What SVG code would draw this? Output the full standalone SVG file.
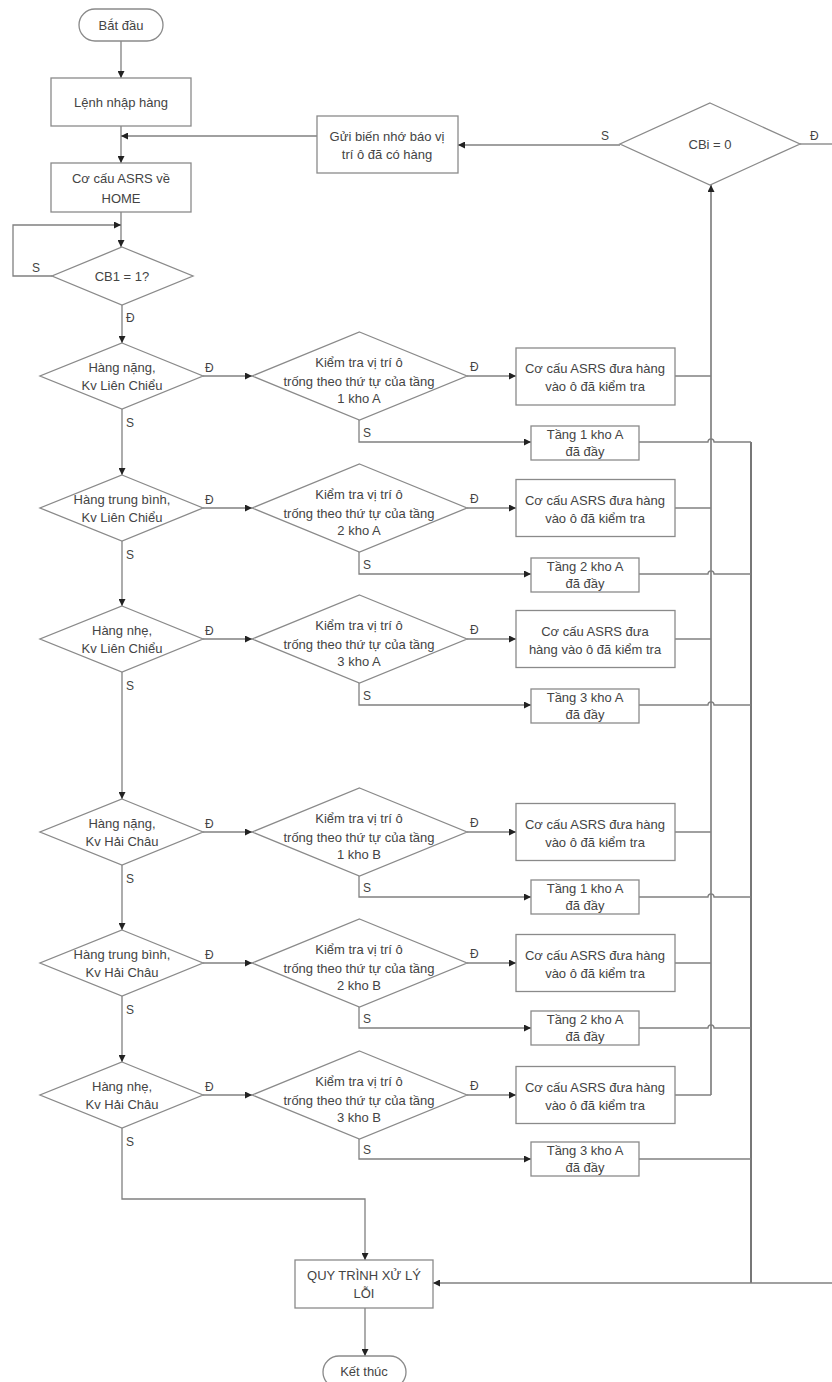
<svg xmlns="http://www.w3.org/2000/svg" width="832" height="1382" viewBox="0 0 832 1382">
<defs>
<marker id="ah" viewBox="0 0 10 10" refX="10" refY="5" markerWidth="7" markerHeight="7" markerUnits="userSpaceOnUse" orient="auto"><path d="M0,0 L10,5 L0,10 z" fill="#222"/></marker>
<style>
.n{fill:#fff;stroke:#8a8a8a;stroke-width:1.3}
.t{font-family:"Liberation Sans",Arial,sans-serif;font-size:13px;fill:#444;text-anchor:middle}
.l{font-family:"Liberation Sans",Arial,sans-serif;font-size:12px;fill:#444}
.c{fill:none;stroke:#808080;stroke-width:1.3}
.v{fill:none;stroke:#666;stroke-width:1.4}
.a{marker-end:url(#ah)}
.d{fill:none;stroke:#555;stroke-width:1.6}
</style>
</defs>
<g id="connectors">
<path class="c a" d="M121,41 V78"/>
<path class="c a" d="M121,126 V163"/>
<path class="c a" d="M317,136 H121"/>
<path class="c a" d="M121,212 V247"/>
<path class="c a" d="M52,276 H13 V225 H121"/>
<path class="c a" d="M122,305 V343"/>
<path class="c a" d="M620,145 H458"/>
<path class="c" d="M800,144 H832"/>
<path class="v a" d="M711,1095 V185"/>
<path class="d" d="M751,442 V1283"/>
<path class="c a" d="M832,1283 H433"/>
<path class="c a" d="M122,1128 V1199 H365 V1260"/>
<path class="c a" d="M365,1308 V1356"/>
<path class="c a" d="M122,409 V475"/>
<path class="c a" d="M122,541 V606"/>
<path class="c a" d="M122,672 V799"/>
<path class="c a" d="M122,865 V930"/>
<path class="c a" d="M122,996 V1062"/>
<path class="c a" d="M203,376 H252"/><path class="c a" d="M467,376 H516"/><path class="c" d="M675,376 H711"/><path class="c a" d="M359,420 V442 H531"/><path class="c" d="M639,442 H708 A3,3 0 0 1 714,442 H751"/>
<path class="c a" d="M203,508 H252"/><path class="c a" d="M467,508 H516"/><path class="c" d="M675,508 H711"/><path class="c a" d="M359,552 V574 H531"/><path class="c" d="M639,574 H708 A3,3 0 0 1 714,574 H751"/>
<path class="c a" d="M203,639 H252"/><path class="c a" d="M467,639 H516"/><path class="c" d="M675,639 H711"/><path class="c a" d="M359,683 V705 H531"/><path class="c" d="M639,705 H708 A3,3 0 0 1 714,705 H751"/>
<path class="c a" d="M203,832 H252"/><path class="c a" d="M467,832 H516"/><path class="c" d="M675,832 H711"/><path class="c a" d="M359,876 V897 H531"/><path class="c" d="M639,897 H708 A3,3 0 0 1 714,897 H751"/>
<path class="c a" d="M203,963 H252"/><path class="c a" d="M467,963 H516"/><path class="c" d="M675,963 H711"/><path class="c a" d="M359,1007 V1028 H531"/><path class="c" d="M639,1028 H708 A3,3 0 0 1 714,1028 H751"/>
<path class="c a" d="M203,1095 H252"/><path class="c a" d="M467,1095 H516"/><path class="c" d="M675,1095 H711"/><path class="c a" d="M359,1139 V1159 H531"/><path class="c" d="M639,1159 H751"/>
<text class="l" x="32" y="272">S</text>
<text class="l" x="126" y="322">Đ</text>
<text class="l" x="601" y="140">S</text>
<text class="l" x="810" y="140">Đ</text>
<text class="l" x="205" y="372">Đ</text><text class="l" x="470" y="371">Đ</text><text class="l" x="126" y="427">S</text><text class="l" x="363" y="437">S</text>
<text class="l" x="205" y="504">Đ</text><text class="l" x="470" y="503">Đ</text><text class="l" x="126" y="559">S</text><text class="l" x="363" y="569">S</text>
<text class="l" x="205" y="635">Đ</text><text class="l" x="470" y="634">Đ</text><text class="l" x="126" y="690">S</text><text class="l" x="363" y="700">S</text>
<text class="l" x="205" y="828">Đ</text><text class="l" x="470" y="827">Đ</text><text class="l" x="126" y="883">S</text><text class="l" x="363" y="892">S</text>
<text class="l" x="205" y="959">Đ</text><text class="l" x="470" y="958">Đ</text><text class="l" x="126" y="1014">S</text><text class="l" x="363" y="1023">S</text>
<text class="l" x="205" y="1091">Đ</text><text class="l" x="470" y="1090">Đ</text><text class="l" x="126" y="1146">S</text><text class="l" x="363" y="1154">S</text>
</g>
<g id="start"><rect class="n" x="79" y="9" width="84" height="32" rx="16"/><text class="t" x="121" y="30">Bắt đầu</text></g>
<g id="lenh"><rect class="n" x="51" y="78" width="140" height="48"/><text class="t" x="121" y="107">Lệnh nhập hàng</text></g>
<g id="home"><rect class="n" x="51" y="163" width="140" height="49"/><text class="t" x="121" y="183">Cơ cấu ASRS về</text><text class="t" x="121" y="203">HOME</text></g>
<g id="cb1"><polygon class="n" points="122,247 193,276 122,305 52,276"/><text class="t" x="122" y="281">CB1 = 1?</text></g>
<g id="gui"><rect class="n" x="317" y="116" width="141" height="57"/><text class="t" x="387" y="141">Gửi biến nhớ báo vị</text><text class="t" x="387" y="159">trí ô đã có hàng</text></g>
<g id="cbi"><polygon class="n" points="710,103 800,144 710,185 620,144"/><text class="t" x="710" y="149">CBi = 0</text></g>
<g id="r1">
<polygon class="n" points="122,343 203,376 122,409 40,376"/><text class="t" x="122" y="372">Hàng nặng,</text><text class="t" x="122" y="390">Kv Liên Chiểu</text>
<polygon class="n" points="359.5,332 467,376 359.5,420 252,376"/><text class="t" x="359" y="367">Kiểm tra vị trí ô</text><text class="t" x="359" y="386">trống theo thứ tự của tầng</text><text class="t" x="359" y="403">1 kho A</text>
<rect class="n" x="516" y="348" width="159" height="57"/><text class="t" x="595" y="373">Cơ cấu ASRS đưa hàng</text><text class="t" x="595" y="391">vào ô đã kiểm tra</text>
<rect class="n" x="531" y="426" width="108" height="34"/><text class="t" x="585" y="439">Tầng 1 kho A</text><text class="t" x="585" y="456">đã đầy</text>
</g>
<g id="r2">
<polygon class="n" points="122,475 203,508 122,541 40,508"/><text class="t" x="122" y="504">Hàng trung bình,</text><text class="t" x="122" y="522">Kv Liên Chiểu</text>
<polygon class="n" points="359.5,464 467,508 359.5,552 252,508"/><text class="t" x="359" y="499">Kiểm tra vị trí ô</text><text class="t" x="359" y="518">trống theo thứ tự của tầng</text><text class="t" x="359" y="535">2 kho A</text>
<rect class="n" x="516" y="479.5" width="159" height="57"/><text class="t" x="595" y="505">Cơ cấu ASRS đưa hàng</text><text class="t" x="595" y="523">vào ô đã kiểm tra</text>
<rect class="n" x="531" y="558" width="108" height="34"/><text class="t" x="585" y="571">Tầng 2 kho A</text><text class="t" x="585" y="588">đã đầy</text>
</g>
<g id="r3">
<polygon class="n" points="122,606 203,639 122,672 40,639"/><text class="t" x="122" y="635">Hàng nhẹ,</text><text class="t" x="122" y="653">Kv Liên Chiểu</text>
<polygon class="n" points="359.5,595 467,639 359.5,683 252,639"/><text class="t" x="359" y="630">Kiểm tra vị trí ô</text><text class="t" x="359" y="649">trống theo thứ tự của tầng</text><text class="t" x="359" y="666">3 kho A</text>
<rect class="n" x="516" y="610.5" width="159" height="57"/><text class="t" x="595" y="636">Cơ cấu ASRS  đưa</text><text class="t" x="595" y="654">hàng vào ô đã kiểm tra</text>
<rect class="n" x="531" y="689" width="108" height="34"/><text class="t" x="585" y="702">Tầng 3 kho A</text><text class="t" x="585" y="719">đã đầy</text>
</g>
<g id="r4">
<polygon class="n" points="122,799 203,832 122,865 40,832"/><text class="t" x="122" y="828">Hàng nặng,</text><text class="t" x="122" y="846">Kv Hải Châu</text>
<polygon class="n" points="359.5,788 467,832 359.5,876 252,832"/><text class="t" x="359" y="823">Kiểm tra vị trí ô</text><text class="t" x="359" y="842">trống theo thứ tự của tầng</text><text class="t" x="359" y="859">1 kho B</text>
<rect class="n" x="516" y="803.5" width="159" height="57"/><text class="t" x="595" y="829">Cơ cấu ASRS đưa hàng</text><text class="t" x="595" y="847">vào ô đã kiểm tra</text>
<rect class="n" x="531" y="880" width="108" height="34"/><text class="t" x="585" y="893">Tầng 1 kho A</text><text class="t" x="585" y="910">đã đầy</text>
</g>
<g id="r5">
<polygon class="n" points="122,930 203,963 122,996 40,963"/><text class="t" x="122" y="959">Hàng trung bình,</text><text class="t" x="122" y="977">Kv Hải Châu</text>
<polygon class="n" points="359.5,919 467,963 359.5,1007 252,963"/><text class="t" x="359" y="954">Kiểm tra vị trí ô</text><text class="t" x="359" y="973">trống theo thứ tự của tầng</text><text class="t" x="359" y="990">2 kho B</text>
<rect class="n" x="516" y="934.5" width="159" height="57"/><text class="t" x="595" y="960">Cơ cấu ASRS đưa hàng</text><text class="t" x="595" y="978">vào ô đã kiểm tra</text>
<rect class="n" x="531" y="1011" width="108" height="34"/><text class="t" x="585" y="1024">Tầng 2 kho A</text><text class="t" x="585" y="1041">đã đầy</text>
</g>
<g id="r6">
<polygon class="n" points="122,1062 203,1095 122,1128 40,1095"/><text class="t" x="122" y="1091">Hàng nhẹ,</text><text class="t" x="122" y="1109">Kv Hải Châu</text>
<polygon class="n" points="359.5,1051 467,1095 359.5,1139 252,1095"/><text class="t" x="359" y="1086">Kiểm tra vị trí ô</text><text class="t" x="359" y="1105">trống theo thứ tự của tầng</text><text class="t" x="359" y="1122">3 kho B</text>
<rect class="n" x="516" y="1066.5" width="159" height="57"/><text class="t" x="595" y="1092">Cơ cấu ASRS đưa hàng</text><text class="t" x="595" y="1110">vào ô đã kiểm tra</text>
<rect class="n" x="531" y="1142" width="108" height="34"/><text class="t" x="585" y="1155">Tầng 3 kho A</text><text class="t" x="585" y="1172">đã đầy</text>
</g>
<g id="loi"><rect class="n" x="295" y="1260" width="138" height="48"/><text class="t" x="364" y="1280">QUY TRÌNH XỬ LÝ</text><text class="t" x="364" y="1298">LỖI</text></g>
<g id="end"><rect class="n" x="323" y="1356" width="83" height="32" rx="16"/><text class="t" x="364" y="1376">Kết thúc</text></g>
</svg>
